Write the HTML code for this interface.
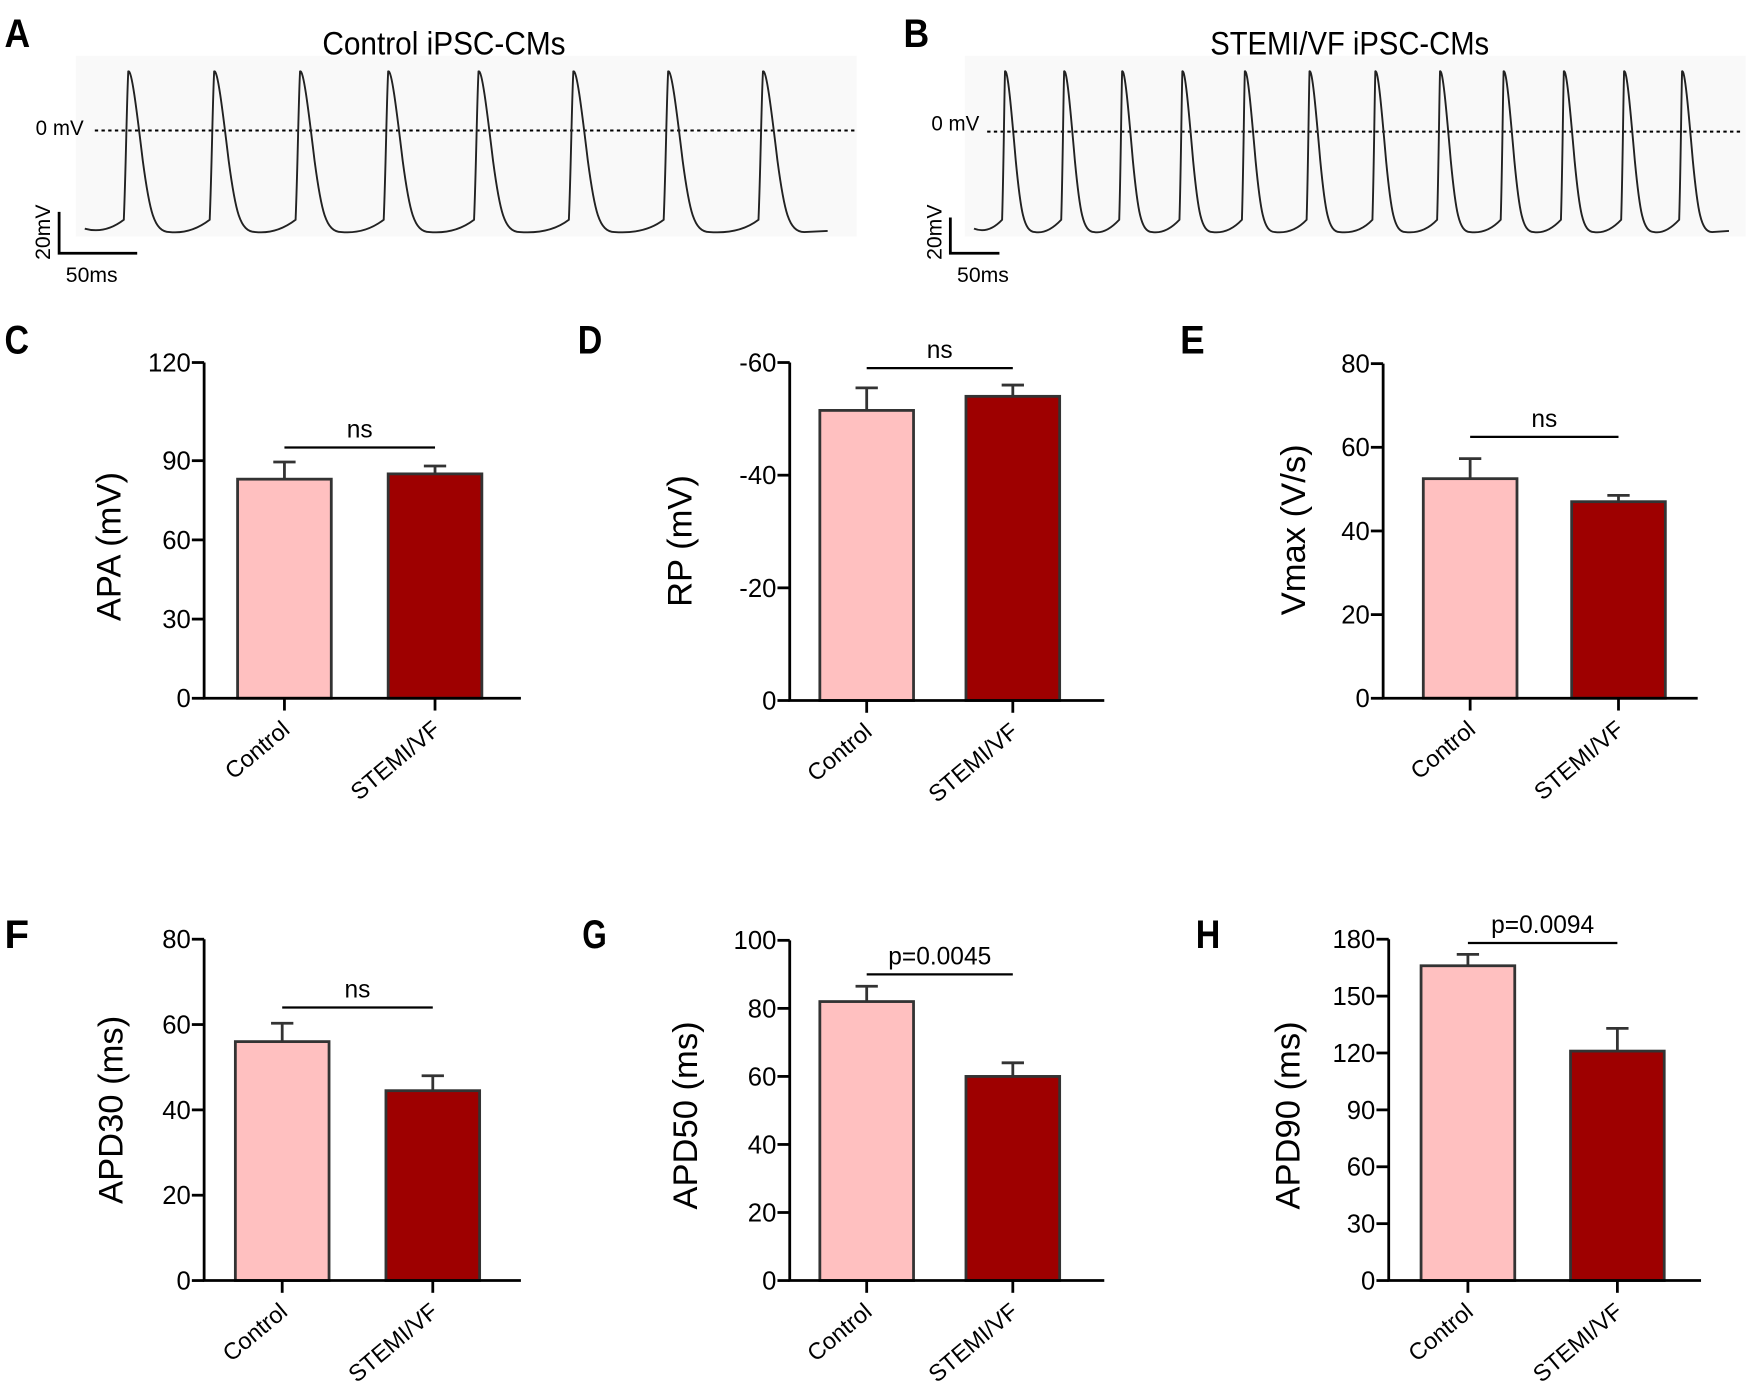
<!DOCTYPE html>
<html><head><meta charset="utf-8">
<style>
html,body{margin:0;padding:0;background:#fff;}
svg{display:block;}
.lt{font-family:"Liberation Sans Narrow","Liberation Sans",sans-serif;font-weight:bold;}
.nar{font-family:"Liberation Sans Narrow","Liberation Sans",sans-serif;}
.reg{font-family:"Liberation Sans",sans-serif;}
</style></head>
<body>
<svg id="fig" width="1749" height="1398" viewBox="0 0 1568 1253.3" preserveAspectRatio="none" xmlns="http://www.w3.org/2000/svg">
<g id="traces"></g>
<g id="charts"></g>
</svg>
<script>
// ---- Trace data (peak times in display px) ----
const controlPeaks = [116,193,270,349,430,515,600,685];
const stemiPeaks = [902,955,1007,1061,1117,1175,1234,1292,1349,1403,1457,1509];

// ---- Bar chart data ----
const groups = ["Control","STEMI/VF"];
const apaMean = [83,85];       const apaErr = [89.5,88];
const rpMean = [-51.5,-54];    const rpErr = [-55.5,-56];
const vmaxMean = [52.5,47];    const vmaxErr = [57.3,48.5];
const apd30Mean = [56,44.5];   const apd30Err = [60.3,48];
const apd50Mean = [82,60];     const apd50Err = [86.5,64];
const apd90Mean = [166,121];   const apd90Err = [172,133];
const apaTicks = [0,30,60,90,120];
const rpTicks = [0,-20,-40,-60];
const vmaxTicks = [0,20,40,60,80];
const apd30Ticks = [0,20,40,60,80];
const apd50Ticks = [0,20,40,60,80,100];
const apd90Ticks = [0,30,60,90,120,150,180];
const sigLabels = ["ns","ns","ns","ns","p=0.0045","p=0.0094"];
const sigLevels = [95,-59,62.5,64,90,178];

const NS="http://www.w3.org/2000/svg";
function mk(tag, attrs, parent, text){
  const e=document.createElementNS(NS,tag);
  for(const k in attrs) e.setAttribute(k,attrs[k]);
  if(text!==undefined) e.textContent=text;
  parent.appendChild(e); return e;
}
const traces=document.getElementById('traces');
const charts=document.getElementById('charts');

// ---- Traces ----
function drawTrace(cfg){
  const g=mk('g',{},traces);
  
  
  const bg=mk('rect',{x:cfg.bx,y:50,width:cfg.bw,height:162,fill:'#f9f9f9'},g);
  
  
  const letter=mk('text',{x:cfg.lx,y:42,'font-size':36,class:'lt',fill:'#000',textLength:23,lengthAdjust:'spacingAndGlyphs'},g,cfg.letter);
  
  
  const t=mk('text',{x:cfg.tx,y:49,'font-size':29,class:'nar','text-anchor':'middle',fill:'#000',textLength:cfg.tl,lengthAdjust:'spacingAndGlyphs'},g,cfg.title);
  
  
  const z=mk('text',{x:cfg.zx,y:cfg.zy,'font-size':19,class:'nar',fill:'#000',textLength:43,lengthAdjust:'spacingAndGlyphs'},g,'0 mV');
  
  
  const d=mk('line',{x1:cfg.dx1,x2:cfg.dx2,y1:cfg.dy,y2:cfg.dy,stroke:'#000','stroke-width':1.8,'stroke-dasharray':'3,3'},g);
  
  
  const s=cfg.scale, base=207, top=64;
  let p='M'+(cfg.peaks[0]-40*s)+','+(base-2);
  cfg.peaks.forEach((pk,i)=>{
    p+=' Q'+(pk-22*s)+','+(base+3)+' '+(pk-5*s)+','+(base-10);
    p+=' C'+(pk-3*s)+','+(base-60)+' '+(pk-2.5*s)+','+(top+30)+' '+(pk-1)+','+top;
    p+=' C'+(pk+2*s)+','+(top-2)+' '+(pk+6*s)+','+(top+30)+' '+(pk+12*s)+','+(top+80);
    p+=' C'+(pk+18*s)+','+(top+125)+' '+(pk+22*s)+','+(base+1)+' '+(pk+36*s)+','+(base+1);
    if(i===cfg.peaks.length-1) p+=' L'+(pk+57*s)+','+(base);
  });
  const w=mk('path',{d:p,fill:'none',stroke:'#222','stroke-width':1.7},g);
  
  
  const sb=mk('path',{d:'M'+cfg.sx+','+cfg.sy1+' V227 H'+(cfg.sx+cfg.sl),fill:'none',stroke:'#000','stroke-width':2.5},g);
  
  
  const v=mk('text',{x:0,y:0,'font-size':19,class:'reg',fill:'#000',transform:'translate('+(cfg.sx-8)+',233) rotate(-90)'},g,'20mV');
  
  
  const h=mk('text',{x:cfg.sx+6,y:253,'font-size':19,class:'reg',fill:'#000'},g,'50ms');
  
  
}
drawTrace({name:'control-trace-panel',letter:'A',lx:4,title:'Control  iPSC-CMs',tx:398,tl:218,bx:68,bw:700,zx:32,zy:121,dx1:85,dx2:768,dy:117,peaks:controlPeaks,scale:1,sx:53,sy1:190,sl:70});
drawTrace({name:'stemi-trace-panel',letter:'B',lx:810,title:'STEMI/VF iPSC-CMs',tx:1210,tl:250,bx:865,bw:700,zx:835,zy:117,dx1:885,dx2:1562,dy:118,peaks:stemiPeaks,scale:0.72,sx:852,sy1:195,sl:44});

// ---- Bar charts ----
const colors=['#ffc0c0','#9e0000'];
function drawChart(c){
  const g=mk('g',{},charts);
  
  
  const ref=c.ticks[c.refIdx];
  const y=v=>c.y0-(v/ref)*(c.y0-c.yRef);
  const tickY=(t,i)=> (c.pinTop && i===c.ticks.length-1) ? c.yTop : y(t);
  const L=mk('text',{x:c.lx,y:c.ly,'font-size':36,class:'lt',fill:'#000',textLength:22,lengthAdjust:'spacingAndGlyphs'},g,c.letter);
  
  
  c.mean.forEach((m,i)=>{
    const cx=c.cx[i];
    const e=mk('path',{d:'M'+cx+','+y(m)+' V'+y(c.err[i])+' M'+(cx-10)+','+y(c.err[i])+' H'+(cx+10),stroke:'#333','stroke-width':2.5,fill:'none'},g);
    
    
    const r=mk('rect',{x:cx-42,y:y(m),width:84,height:c.y0-y(m),fill:colors[i],stroke:'#333','stroke-width':2.5},g);
    
    
  });
  const ax=mk('path',{d:'M'+c.ax+','+(c.yTop)+' V'+c.y0+' H'+c.axEnd,stroke:'#000','stroke-width':2.5,fill:'none'},g);
  
  
  c.ticks.forEach((t,i)=>{
    const ty=tickY(t,i);
    const tk=mk('line',{x1:c.ax-11,x2:c.ax,y1:ty,y2:ty,stroke:'#000','stroke-width':2.5},g);
    
    
    const tl=mk('text',{x:c.ax-12,y:ty+8,'font-size':23,class:'reg','text-anchor':'end',fill:'#000'},g,String(t));
    
    
  });
  groups.forEach((gname,i)=>{
    const tk=mk('line',{x1:c.cx[i],x2:c.cx[i],y1:c.y0,y2:c.y0+11,stroke:'#000','stroke-width':2.5},g);
    
    
    const tl=mk('text',{x:0,y:0,'font-size':21,class:'reg','text-anchor':'end',fill:'#000',transform:'translate('+(c.cx[i]+6)+','+(c.y0+30)+') rotate(-40)'},g,gname);
    
    
  });
  const yt=mk('text',{x:0,y:0,'font-size':31,class:'reg','text-anchor':'middle',fill:'#000',transform:'translate('+c.tx+','+c.ty+') rotate(-90)'},g,c.title);
  
  
  const sy=y(c.sigLevel);
  const sl=mk('line',{x1:c.cx[0],x2:c.cx[1],y1:sy,y2:sy,stroke:'#000','stroke-width':2},g);
  
  
  const st=mk('text',{x:(c.cx[0]+c.cx[1])/2,y:sy-9,'font-size':22,class:'reg','text-anchor':'middle',fill:'#000'},g,c.sig);
  
  
}
drawChart({name:'apa-chart',letter:'C',lx:4,ly:317,mean:apaMean,err:apaErr,ticks:apaTicks,refIdx:3,yRef:413,pinTop:true,ax:183,axEnd:467,y0:626,yTop:325,cx:[255,390],title:'APA (mV)',tx:108,ty:490,sigLevel:sigLevels[0],sig:sigLabels[0]});
drawChart({name:'rp-chart',letter:'D',lx:518,ly:317,mean:rpMean,err:rpErr,ticks:rpTicks,refIdx:3,yRef:325,ax:708,axEnd:990,y0:628,yTop:325,cx:[777,908],title:'RP (mV)',tx:620,ty:485,sigLevel:sigLevels[1],sig:sigLabels[1]});
drawChart({name:'vmax-chart',letter:'E',lx:1058,ly:317,mean:vmaxMean,err:vmaxErr,ticks:vmaxTicks,refIdx:4,yRef:326,ax:1240,axEnd:1522,y0:626,yTop:326,cx:[1318,1451],title:'Vmax (V/s)',tx:1170,ty:475,sigLevel:sigLevels[2],sig:sigLabels[2]});
drawChart({name:'apd30-chart',letter:'F',lx:4,ly:850,mean:apd30Mean,err:apd30Err,ticks:apd30Ticks,refIdx:4,yRef:842,ax:183,axEnd:467,y0:1148,yTop:842,cx:[253,388],title:'APD30 (ms)',tx:110,ty:995,sigLevel:sigLevels[3],sig:sigLabels[3]});
drawChart({name:'apd50-chart',letter:'G',lx:522,ly:850,mean:apd50Mean,err:apd50Err,ticks:apd50Ticks,refIdx:5,yRef:843,ax:708,axEnd:990,y0:1148,yTop:843,cx:[777,908],title:'APD50 (ms)',tx:625,ty:1000,sigLevel:sigLevels[4],sig:sigLabels[4]});
drawChart({name:'apd90-chart',letter:'H',lx:1072,ly:850,mean:apd90Mean,err:apd90Err,ticks:apd90Ticks,refIdx:6,yRef:842,ax:1245,axEnd:1525,y0:1148,yTop:842,cx:[1316,1450],title:'APD90 (ms)',tx:1165,ty:1000,sigLevel:sigLevels[5],sig:sigLabels[5]});
</script>
</body></html>
